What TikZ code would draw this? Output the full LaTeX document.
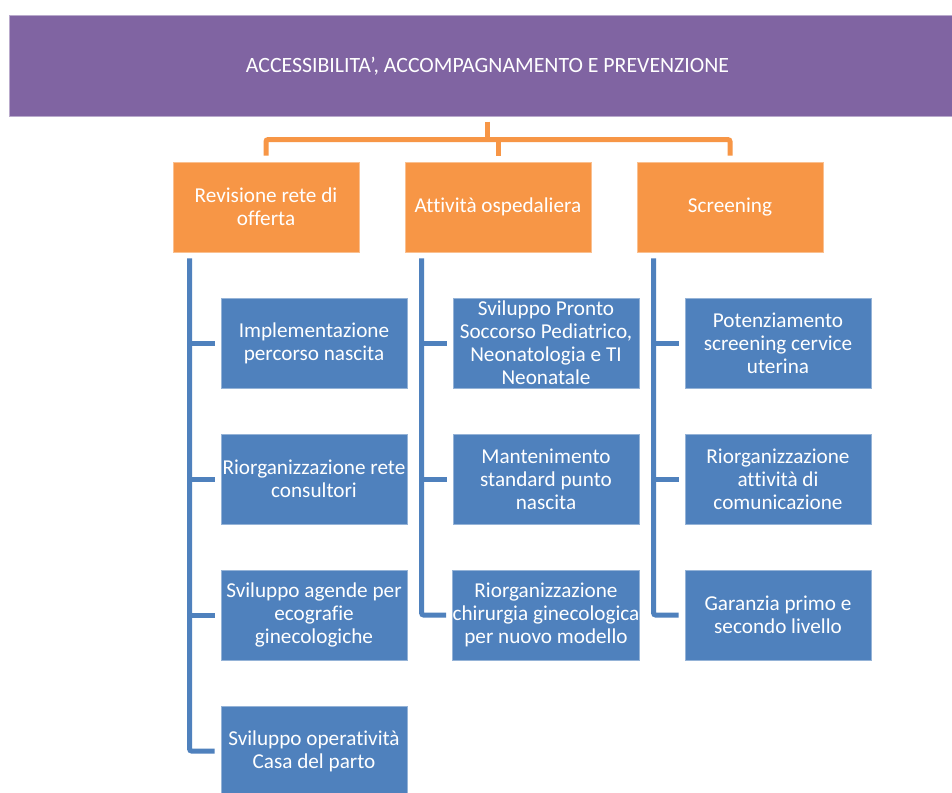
\documentclass[tikz,border=0pt]{standalone}
\usepackage{fontspec}
\setmainfont[Ligatures={NoCommon}]{Carlito}
\usetikzlibrary{calc}
\definecolor{hdr}{HTML}{8064A2}
\definecolor{orng}{HTML}{F79646}
\definecolor{blu}{HTML}{4F81BD}
\tikzset{
  txt/.style={text=white, align=center, font=\fontsize{21.2}{23}\selectfont, inner sep=0pt},
  banner/.style={txt, font=\fontsize{21.8}{23}\selectfont, fill=hdr, draw=white!45!hdr, line width=1pt, minimum width=957pt, minimum height=100pt},
  obox/.style={txt, fill=orng, draw=white!40!orng, line width=0.8pt, minimum width=186pt, minimum height=90pt},
  bbox/.style={txt, fill=blu, draw=white!40!blu, line width=0.8pt, minimum width=186pt, minimum height=90pt},
  oc/.style={draw=orng, line width=5pt, rounded corners=2pt},
  bc/.style={draw=blu, line width=5pt, rounded corners=2pt}
}
\begin{document}
\begin{tikzpicture}[x=1pt,y=-1pt]
\useasboundingbox (0,0) rectangle (952,792);
\clip (0,0) rectangle (952,792);
\fill[white] (0,0) rectangle (952,792);
\node[banner] (top) at (487.5,66) {ACCESSIBILITA’, ACCOMPAGNAMENTO E PREVENZIONE};

\node[obox] (o1) at (266,207) {Revisione rete di\\offerta};
\node[obox] (o2) at (498,207) {Attività ospedaliera};
\node[obox] (o3) at (730,207) {Screening};

\node[bbox] (b11) at (314,343) {Implementazione\\percorso nascita};
\node[bbox] (b12) at (314,479) {Riorganizzazione rete\\consultori};
\node[bbox] (b13) at (314,615) {Sviluppo agende per\\ecografie\\ginecologiche};
\node[bbox] (b14) at (314,751) {Sviluppo operatività\\Casa del parto};

\node[bbox] (b21) at (546,343) {Sviluppo Pronto\\Soccorso Pediatrico,\\Neonatologia e TI\\Neonatale};
\node[bbox] (b22) at (546,479) {Mantenimento\\standard punto\\nascita};
\node[bbox] (b23) at (546,615) {Riorganizzazione\\chirurgia ginecologica\\per nuovo modello};

\node[bbox] (b31) at (778,343) {Potenziamento\\screening cervice\\uterina};
\node[bbox] (b32) at (778,479) {Riorganizzazione\\attività di\\comunicazione};
\node[bbox] (b33) at (778,615) {Garanzia primo e\\secondo livello};

% orange connectors
\coordinate (j) at ($(o2.north)+(-11,-22)$);
\draw[oc] ($(j)+(0,-18)$) -- (j);
\draw[oc] ($(o1.north)+(0,-6)$) -- ++(0,-16) -| ($(o3.north)+(0,-6)$);
\draw[oc] ($(o2.north)+(0,-6)$) -- ++(0,-16);

% blue connectors
\coordinate (t1) at ($(o1.south west)+(17,6)$);
\coordinate (t2) at ($(o2.south west)+(17,6)$);
\coordinate (t3) at ($(o3.south west)+(17,6)$);
\draw[bc] (t1) |- ($(b14.west)+(-6,0)$);
\draw[bc] (t2) |- ($(b23.west)+(-6,0)$);
\draw[bc] (t3) |- ($(b33.west)+(-6,0)$);
\foreach \b/\t in {b11/t1,b12/t1,b13/t1,b21/t2,b22/t2,b31/t3,b32/t3}{
  \draw[bc] (\b.west -| \t) -- ($(\b.west)+(-6,0)$);
}
\end{tikzpicture}
\end{document}
